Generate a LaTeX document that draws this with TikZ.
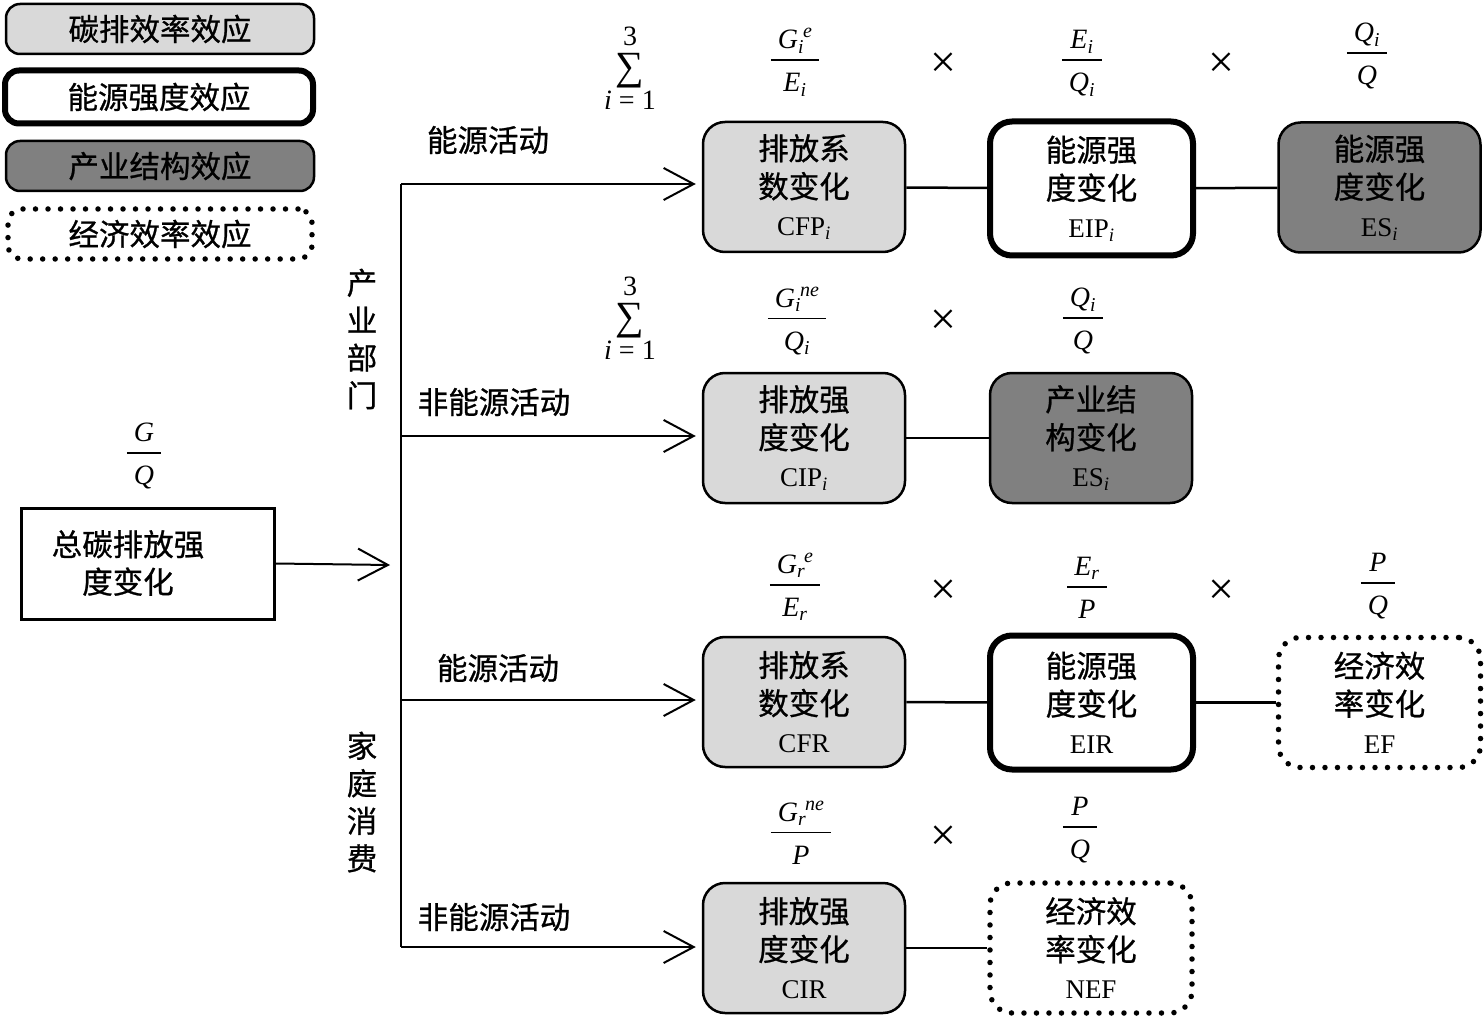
\documentclass[tikz,border=0pt]{standalone}
\usepackage{amsmath}
\usepackage{fontspec}
\setmainfont{Liberation Serif}
\newfontfamily\cjk[FakeBold=0.8]{Noto Sans CJK SC}
\usetikzlibrary{arrows.meta}
\definecolor{lightg}{HTML}{D9D9D9}
\definecolor{darkg}{HTML}{808080}
\setlength{\arrayrulewidth}{1.6pt}
\tikzset{
  base/.style={rounded corners=22pt, minimum width=202pt, minimum height=130pt, align=center,
    font=\cjk\fontsize{30.5}{38}\selectfont, inner sep=0pt},
  carbon/.style={base, draw, fill=lightg, line width=2.5pt},
  energy/.style={base, draw, fill=white, line width=6pt, minimum width=203pt, minimum height=134pt},
  struct/.style={base, draw, fill=darkg, line width=2.5pt},
  econ/.style={base, draw, dash pattern=on 0pt off 12.5pt, line cap=round, line width=5.5pt},
  legbase/.style={rounded corners=14pt, minimum width=308pt, minimum height=50pt, inner sep=0pt,
    font=\cjk\fontsize{30.5}{34}\selectfont},
  lab/.style={font=\cjk\fontsize{30.5}{37.5}\selectfont, align=center, inner sep=0pt},
  frm/.style={font=\rmfamily\fontsize{28}{34}\selectfont, inner sep=0pt},
  tms/.style={font=\rmfamily\fontsize{46}{46}\selectfont, inner sep=0pt},
  sumst/.style={font=\rmfamily\fontsize{28}{32}\selectfont, inner sep=0pt, anchor=north},
  conn/.style={line width=2.5pt},
  arr/.style={line width=2pt, -{Straight Barb[length=30pt, width=32pt, line width=2pt]}},
}
\newcommand{\mi}[1]{\textit{#1}}
\newcommand{\lat}[1]{{\rmfamily\fontsize{27}{38}\selectfont #1}}
\newcommand{\fr}[2]{\begin{tabular}{@{\hspace{7pt}}c@{\hspace{7pt}}}#1\\\hline\rule{0pt}{31pt}#2\end{tabular}}
\newcommand{\gsub}[2]{\mi{G}$_{\mi{#1}}$\kern-1pt\raisebox{11pt}{\fontsize{20}{20}\selectfont\mi{#2}}}
\newcommand{\sm}{\vbox{\offinterlineskip\halign{\hfil##\hfil\cr 3\cr\noalign{\kern7pt}{\fontsize{40}{40}\selectfont ∑}\cr\noalign{\kern3pt}\textit{i} = 1\cr}}}
\begin{document}
\begin{tikzpicture}[x=1pt,y=-1pt]
\useasboundingbox (0,0) rectangle (1484,1019);
% legend
\node[legbase, draw, fill=lightg, line width=2.5pt] (leg1) at (160,29) {碳排效率效应};
\node[legbase, draw, fill=white, line width=6pt, minimum height=53pt] (leg2) at (159,97) {能源强度效应};
\node[legbase, draw, fill=darkg, line width=2.5pt] (leg3) at (160,166) {产业结构效应};
\node[legbase, draw, dash pattern=on 0pt off 12.5pt, line cap=round, line width=5.5pt, minimum width=304pt] (leg4) at (160,234) {经济效率效应};
% total
\node[draw, line width=3pt, minimum width=253pt, minimum height=111pt] (tot) at (147.5,563.5) {};
\node[lab] (totl) at (128,563) {总碳排放强\\度变化};
\node[frm] (fGQ) at (144,456.5) {\fr{\mi{G}}{\mi{Q}}};
\coordinate (mid) at (390,565);
\draw[arr] (tot.east) -- (mid);
% trunk
\coordinate (b1) at (401,184);
\coordinate (b2) at (401,436);
\coordinate (b3) at (401,700);
\coordinate (b4) at (401,947);
\draw[line width=2pt] (b1) -- (b4);
\node[lab] (v1) at (362,339) {产\\业\\部\\门};
\node[lab] (v2) at (362,802) {家\\庭\\消\\费};
\node[lab] (l1) at (488,140) {能源活动};
\node[lab] (l2) at (494,402) {非能源活动};
\node[lab] (l3) at (498,668) {能源活动};
\node[lab] (l4) at (494,917) {非能源活动};
% row 1
\node[carbon] (A1) at (804,187) {排放系\\数变化\\\lat{CFP$_{\mi{i}}$}};
\node[energy] (B1) at (1091.5,188.5) {能源强\\度变化\\\lat{EIP$_{\mi{i}}$}};
\node[struct] (C1) at (1379.5,187.5) {能源强\\度变化\\\lat{ES$_{\mi{i}}$}};
% row 2
\node[carbon] (A2) at (804,438) {排放强\\度变化\\\lat{CIP$_{\mi{i}}$}};
\node[struct] (B2) at (1091,438) {产业结\\构变化\\\lat{ES$_{\mi{i}}$}};
% row 3
\node[carbon] (A3) at (804,702) {排放系\\数变化\\\lat{CFR}};
\node[energy] (B3) at (1091.5,702.5) {能源强\\度变化\\\lat{EIR}};
\node[econ] (C3) at (1379.5,702.5) {经济效\\率变化\\\lat{EF}};
% row 4
\node[carbon] (A4) at (804,948) {排放强\\度变化\\\lat{CIR}};
\node[econ] (B4) at (1091,948) {经济效\\率变化\\\lat{NEF}};
% branch arrows
\draw[arr, shorten >=6pt] (b1) -- (A1.west |- b1);
\draw[arr, shorten >=6pt] (b2) -- (A2.west |- b2);
\draw[arr, shorten >=6pt] (b3) -- (A3.west |- b3);
\draw[arr, shorten >=6pt] (b4) -- (A4.west |- b4);
% connectors
\draw[conn] (A1) -- (B1);
\draw[conn] (B1) -- (C1);
\draw[conn] (A2) -- (B2);
\draw[conn] (A3) -- (B3);
\draw[conn] (B3) -- (C3);
\draw[conn] (A4) -- (B4);
% formulas row 1
\node[sumst] (s1) at (630,27) {\sm};
\node[frm] (f11) at (795,63.5) {\fr{\gsub{i}{e}}{\mi{E}$_{\mi{i}}$}};
\node[tms] (x11) at (943,65) {×};
\node[frm] (f12) at (1082,63.5) {\fr{\mi{E}$_{\mi{i}}$}{\mi{Q}$_{\mi{i}}$}};
\node[tms] (x12) at (1221,65) {×};
\node[frm] (f13) at (1367,56.5) {\fr{\mi{Q}$_{\mi{i}}$}{\mi{Q}}};
% formulas row 2
\node[sumst] (s2) at (630,277) {\sm};
\node[frm] (f21) at (797,322) {\fr{\gsub{i}{ne}}{\mi{Q}$_{\mi{i}}$}};
\node[tms] (x21) at (943,322) {×};
\node[frm] (f22) at (1083,321.5) {\fr{\mi{Q}$_{\mi{i}}$}{\mi{Q}}};
% formulas row 3
\node[frm] (f31) at (795,588.5) {\fr{\gsub{r}{e}}{\mi{E}$_{\mi{r}}$}};
\node[tms] (x31) at (943,592) {×};
\node[frm] (f32) at (1087,590.5) {\fr{\mi{E}$_{\mi{r}}$}{\mi{P}}};
\node[tms] (x32) at (1221,592) {×};
\node[frm] (f33) at (1378,586.5) {\fr{\mi{P}}{\mi{Q}}};
% formulas row 4
\node[frm] (f41) at (801,836) {\fr{\gsub{r}{ne}}{\mi{P}}};
\node[tms] (x41) at (943,838) {×};
\node[frm] (f42) at (1080,830.5) {\fr{\mi{P}}{\mi{Q}}};
\end{tikzpicture}
\end{document}
